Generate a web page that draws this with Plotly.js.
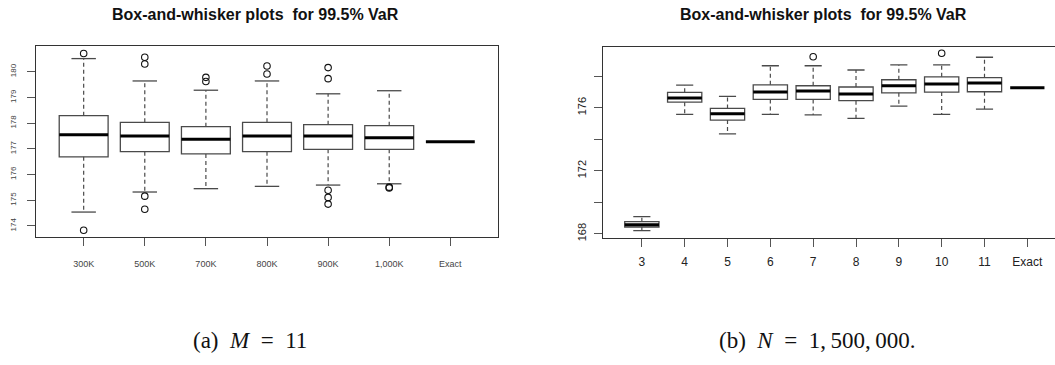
<!DOCTYPE html>
<html>
<head>
<meta charset="utf-8">
<script src="https://cdn.plot.ly/plotly-3.0.1.min.js"></script>
<style>html,body{margin:0;padding:0;background:#fff;}#chart{width:1055px;height:365px;}</style>
</head>
<body>
<div id="chart"></div>
<script>
// ---- Panel (a): M = 11 ----
const catsA = ['300K','500K','700K','800K','900K','1,000K','Exact'];
const lowA  = [174.54, 175.32, 175.45, 175.54, 175.59, 175.64];
const q1A   = [176.69, 176.89, 176.80, 176.89, 176.98, 176.98];
const medA  = [177.55, 177.50, 177.37, 177.50, 177.50, 177.43];
const q3A   = [178.29, 178.03, 177.86, 178.03, 177.94, 177.90];
const highA = [180.51, 179.64, 179.28, 179.64, 179.14, 179.26];
const exactA = 177.28;
const outCatA = ['300K','300K','500K','500K','500K','500K','700K','700K','800K','800K','900K','900K','900K','900K','900K','1,000K','1,000K'];
const outValA = [180.71, 173.83, 180.56, 180.30, 175.16, 174.65, 179.78, 179.62, 180.22, 179.91, 180.16, 179.73, 175.39, 175.11, 174.85, 175.51, 175.48];
const yTicksA = [174, 175, 176, 177, 178, 179, 180];

// ---- Panel (b): N = 1,500,000 ----
const catsB = ['3','4','5','6','7','8','9','10','11','Exact'];
const lowB  = [168.20, 175.58, 174.35, 175.58, 175.55, 175.33, 176.11, 175.58, 175.92];
const q1B   = [168.43, 176.36, 175.22, 176.53, 176.53, 176.45, 176.95, 177.00, 177.02];
const medB  = [168.58, 176.62, 175.62, 177.00, 177.06, 176.87, 177.40, 177.51, 177.57];
const q3B   = [168.77, 176.98, 175.96, 177.46, 177.40, 177.32, 177.78, 177.97, 177.91];
const highB = [169.09, 177.44, 176.73, 178.67, 178.67, 178.40, 178.72, 178.72, 179.21];
const exactB = 177.27;
const outCatB = ['7','10'];
const outValB = [179.24, 179.46];
const yTicksB = [168, 170, 172, 174, 176, 178];
const yTickTextB = ['168', '', '172', '', '176', ''];

const BOXHALF = 0.4, STAPLEHALF = 0.2;
const BOXLINE = '#4a4a4a';

function panelTraces(cats, low, q1, med, q3, high, exact, outCat, outVal, xa, ya) {
  const pos = cats.map((c, i) => i + 1);
  const n = low.length;
  const bp = pos.slice(0, n);
  const traces = [];
  traces.push({
    type: 'box', x: bp, q1: q1, median: med, q3: q3,
    lowerfence: q1, upperfence: q3, width: 2 * BOXHALF, whiskerwidth: 0,
    fillcolor: '#ffffff', line: {color: BOXLINE, width: 1.3},
    boxpoints: false, showlegend: false, hoverinfo: 'skip', xaxis: xa, yaxis: ya
  });
  // dashed whiskers
  const wx = [], wy = [];
  for (let i = 0; i < n; i++) {
    wx.push(bp[i], bp[i], null, bp[i], bp[i], null);
    wy.push(q3[i], high[i], null, q1[i], low[i], null);
  }
  traces.push({type: 'scatter', mode: 'lines', x: wx, y: wy, xaxis: xa, yaxis: ya,
    line: {color: BOXLINE, width: 1.2, dash: '4px,3px'}, showlegend: false, hoverinfo: 'skip'});
  // staples
  const sx = [], sy = [];
  for (let i = 0; i < n; i++) {
    sx.push(bp[i] - STAPLEHALF, bp[i] + STAPLEHALF, null, bp[i] - STAPLEHALF, bp[i] + STAPLEHALF, null);
    sy.push(high[i], high[i], null, low[i], low[i], null);
  }
  traces.push({type: 'scatter', mode: 'lines', x: sx, y: sy, xaxis: xa, yaxis: ya,
    line: {color: BOXLINE, width: 1.3}, showlegend: false, hoverinfo: 'skip'});
  // thick medians (incl. exact value)
  const allMed = med.concat([exact]);
  const mx = [], my = [];
  for (let i = 0; i < allMed.length; i++) {
    mx.push(pos[i] - BOXHALF, pos[i] + BOXHALF, null);
    my.push(allMed[i], allMed[i], null);
  }
  traces.push({type: 'scatter', mode: 'lines', x: mx, y: my, xaxis: xa, yaxis: ya,
    line: {color: '#000000', width: 3}, showlegend: false, hoverinfo: 'skip'});
  // outliers
  traces.push({type: 'scatter', mode: 'markers',
    x: outCat.map(c => cats.indexOf(c) + 1), y: outVal, xaxis: xa, yaxis: ya,
    marker: {symbol: 'circle-open', size: 6.5, color: '#111', line: {width: 1.1, color: '#111'}},
    showlegend: false, hoverinfo: 'skip'});
  return traces;
}

const data = panelTraces(catsA, lowA, q1A, medA, q3A, highA, exactA, outCatA, outValA, 'x', 'y')
  .concat(panelTraces(catsB, lowB, q1B, medB, q3B, highB, exactB, outCatB, outValB, 'x2', 'y2'));

const W = 1055, H = 365;
const sans = 'Liberation Sans, Arial, sans-serif';
const serif = 'Liberation Serif, DejaVu Serif, serif';
const axCommon = {showgrid: false, zeroline: false, showline: true, linecolor: '#333', linewidth: 1,
  ticks: 'outside', ticklen: 8, tickcolor: '#555', tickwidth: 1, fixedrange: true};

const layout = {
  width: W, height: H, autosize: false,
  margin: {l: 0, r: 0, t: 0, b: 0, pad: 0},
  paper_bgcolor: '#fff', plot_bgcolor: '#fff',
  showlegend: false,
  xaxis: Object.assign({}, axCommon, {
    domain: [36 / W, 498 / W], range: [0.22, 7.78], anchor: 'y', mirror: true,
    tickmode: 'array', tickvals: catsA.map((c, i) => i + 1), ticktext: catsA,
    tickfont: {family: sans, size: 9, color: '#444'}, ticklabelstandoff: 10
  }),
  yaxis: Object.assign({}, axCommon, {
    domain: [(H - 237) / H, (H - 46) / H], range: [173.57, 181.0], anchor: 'x', mirror: true,
    tickmode: 'array', tickvals: yTicksA, ticktext: yTicksA.map(String), tickangle: -90,
    tickfont: {family: sans, size: 8, color: '#444'}, ticklabelstandoff: 8
  }),
  xaxis2: Object.assign({}, axCommon, {
    domain: [603.3 / W, 1], range: [0.1, 10.646], anchor: 'y2', mirror: true,
    tickmode: 'array', tickvals: catsB.map((c, i) => i + 1), ticktext: catsB,
    tickfont: {family: sans, size: 12, color: '#222'}, ticklabelstandoff: 5
  }),
  yaxis2: Object.assign({}, axCommon, {
    domain: [(H - 237.7) / H, (H - 46.7) / H], range: [167.75, 179.88], anchor: 'x2', mirror: false,
    tickmode: 'array', tickvals: yTicksB, ticktext: yTickTextB, tickangle: -90,
    tickfont: {family: sans, size: 11, color: '#222'}, ticklabelstandoff: 4
  }),
  annotations: [
    {text: '<b>Box-and-whisker plots\u00a0 for 99.5% VaR</b>', xref: 'paper', yref: 'paper',
     x: 255 / W, y: 1 - 15 / H, xanchor: 'center', yanchor: 'middle', showarrow: false,
     font: {family: sans, size: 16, color: '#111'}},
    {text: '<b>Box-and-whisker plots\u00a0 for 99.5% VaR</b>', xref: 'paper', yref: 'paper',
     x: 823 / W, y: 1 - 15 / H, xanchor: 'center', yanchor: 'middle', showarrow: false,
     font: {family: sans, size: 16, color: '#111'}},
    {text: '(a)\u00a0 <i>M</i>\u00a0 =\u00a0 11', xref: 'paper', yref: 'paper',
     x: 250 / W, y: 1 - 340 / H, xanchor: 'center', yanchor: 'middle', showarrow: false,
     font: {family: serif, size: 23, color: '#111'}},
    {text: '(b)\u00a0 <i>N</i>\u00a0 =\u00a0 1,\u2009500,\u2009000.', xref: 'paper', yref: 'paper',
     x: 817 / W, y: 1 - 340 / H, xanchor: 'center', yanchor: 'middle', showarrow: false,
     font: {family: serif, size: 23, color: '#111'}}
  ]
};

Plotly.newPlot('chart', data, layout, {displayModeBar: false, staticPlot: true});
</script>
</body>
</html>
